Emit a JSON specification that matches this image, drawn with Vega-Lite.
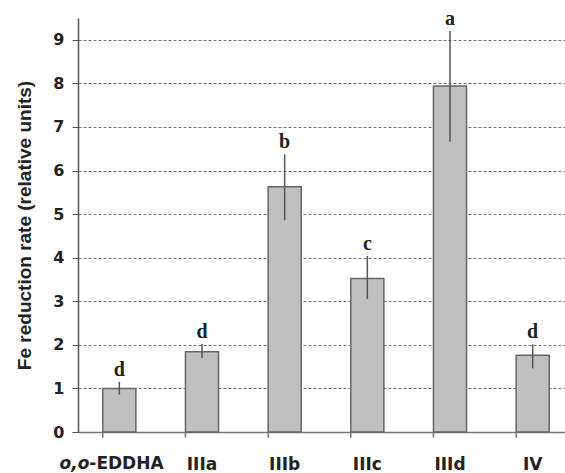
{
  "$schema": "https://vega.github.io/schema/vega-lite/v6.json",
  "width": 487,
  "height": 414,
  "autosize": {"type": "none"},
  "padding": {"left": 78, "top": 18, "right": 0, "bottom": 41},
  "background": "white",
  "config": {"view": {"stroke": null}},
  "datasets": {
    "bars": [
      {"cat": "o,o-EDDHA", "mean": 1.0, "lo": 0.86, "hi": 1.15, "letter": "d"},
      {"cat": "IIIa", "mean": 1.84, "lo": 1.69, "hi": 2.02, "letter": "d"},
      {"cat": "IIIb", "mean": 5.63, "lo": 4.86, "hi": 6.37, "letter": "b"},
      {"cat": "IIIc", "mean": 3.52, "lo": 3.05, "hi": 4.04, "letter": "c"},
      {"cat": "IIId", "mean": 7.94, "lo": 6.66, "hi": 9.2, "letter": "a"},
      {"cat": "IV", "mean": 1.76, "lo": 1.46, "hi": 2.01, "letter": "d"}
    ],
    "firstlabel": [
      {"cat": "o,o-EDDHA", "a": "o,o", "b": "-EDDHA"}
    ]
  },
  "data": {"name": "bars"},
  "encoding": {
    "x": {
      "field": "cat",
      "type": "nominal",
      "sort": null,
      "scale": {"range": [0, 496], "paddingInner": 0.6, "paddingOuter": 0.3},
      "axis": {
        "title": null,
        "grid": false,
        "ticks": false,
        "domainColor": "#777",
        "domainWidth": 1.5,
        "labelAngle": 0,
        "labelFont": "DejaVu Sans",
        "labelFontWeight": "bold",
        "labelFontSize": 17,
        "labelColor": "#222",
        "labelBaseline": "alphabetic",
        "labelPadding": 37,
        "labelExpr": "datum.value == 'o,o-EDDHA' ? '' : datum.label"
      }
    }
  },
  "layer": [
    {
      "mark": {"type": "bar", "fill": "#c0c0c0", "stroke": "#666", "strokeWidth": 1.5},
      "encoding": {
        "y": {
          "field": "mean",
          "type": "quantitative",
          "title": "Fe reduction rate (relative units)",
          "scale": {"domain": [0, 9.5], "nice": false},
          "axis": {
            "values": [0, 1, 2, 3, 4, 5, 6, 7, 8, 9],
            "tickSize": 6,
            "tickColor": "#555",
            "domainColor": "#555",
            "domainWidth": 1.5,
            "labelFont": "DejaVu Sans",
            "labelFontWeight": "bold",
            "labelFontSize": 16,
            "labelPadding": 8,
            "labelColor": "#222",
            "grid": true,
            "gridDash": [3, 2],
            "gridColor": "#777",
            "gridWidth": 1,
            "titleFont": "Liberation Sans",
            "titleFontSize": 19,
            "titleFontWeight": "bold",
            "titleColor": "#222",
            "titlePadding": 18
          }
        }
      }
    },
    {
      "mark": {"type": "rule", "color": "#555", "strokeWidth": 1.5},
      "encoding": {
        "y": {"field": "lo", "type": "quantitative", "title": "Fe reduction rate (relative units)", "scale": {"domain": [0, 9.5], "nice": false}},
        "y2": {"field": "hi"}
      }
    },
    {
      "mark": {"type": "text", "font": "Liberation Serif", "fontWeight": "bold", "fontSize": 20, "baseline": "alphabetic", "dy": -6, "color": "#222"},
      "encoding": {
        "y": {"field": "hi", "type": "quantitative", "title": "Fe reduction rate (relative units)", "scale": {"domain": [0, 9.5], "nice": false}},
        "text": {"field": "letter"}
      }
    },
    {
      "mark": {"type": "rule", "color": "#777", "strokeWidth": 1.5},
      "encoding": {
        "x": {"field": "cat", "type": "nominal", "sort": null, "bandPosition": 0},
        "y": {"datum": 0, "type": "quantitative", "title": "Fe reduction rate (relative units)", "scale": {"domain": [0, 9.5], "nice": false}},
        "y2": {"datum": -0.13}
      }
    },
    {
      "data": {"name": "firstlabel"},
      "mark": {"type": "text", "font": "DejaVu Sans", "fontWeight": "bold", "fontStyle": "italic", "fontSize": 17, "align": "right", "baseline": "alphabetic", "dx": -30, "dy": 37, "color": "#222"},
      "encoding": {
        "y": {"datum": 0, "type": "quantitative", "title": "Fe reduction rate (relative units)", "scale": {"domain": [0, 9.5], "nice": false}},
        "text": {"field": "a"}
      }
    },
    {
      "data": {"name": "firstlabel"},
      "mark": {"type": "text", "font": "DejaVu Sans", "fontWeight": "bold", "fontSize": 17, "align": "left", "baseline": "alphabetic", "dx": -30, "dy": 37, "color": "#222"},
      "encoding": {
        "y": {"datum": 0, "type": "quantitative", "title": "Fe reduction rate (relative units)", "scale": {"domain": [0, 9.5], "nice": false}},
        "text": {"field": "b"}
      }
    }
  ]
}
